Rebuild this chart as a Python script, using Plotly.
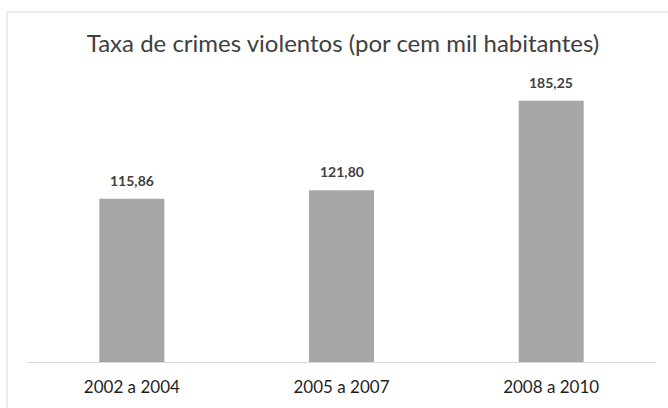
import plotly.graph_objects as go

categories = ["2002 a 2004", "2005 a 2007", "2008 a 2010"]
values = [115.86, 121.80, 185.25]
title_text = "Taxa de crimes violentos (por cem mil habitantes)"

W, H = 668, 408
L, R, T, B = 27, 12, 80, 46
pw = W - L - R
ph = H - T - B

fig = go.Figure(go.Bar(
    x=categories, y=values,
    marker=dict(color="#a6a6a6", line=dict(width=0)),
    width=0.31,
    hoverinfo="x+y",
))

for c, v in zip(categories, values):
    fig.add_annotation(
        x=c, y=v, xref="x", yref="y",
        text=f"{v:.2f}".replace(".", ","),
        showarrow=False, yanchor="bottom", yshift=8,
        font=dict(family="Lato", size=14, color="#404040", weight="bold"),
    )

fig.update_layout(
    width=W, height=H,
    margin=dict(l=L, r=R, t=T, b=B),
    paper_bgcolor="white", plot_bgcolor="white",
    showlegend=False,
    title=dict(text=title_text, x=343 / W, xref="container", xanchor="center",
               y=1 - 44 / H, yanchor="middle", yref="container",
               font=dict(family="Lato", size=24, color="#404040")),
    xaxis=dict(showline=True, linecolor="#d9d9d9", linewidth=1, ticks="",
               ticklabelstandoff=10,
               tickfont=dict(family="Lato", size=17, color="#1f1f1f"),
               showgrid=False),
    yaxis=dict(range=[0, 200], visible=False, showgrid=False),
    shapes=[dict(type="rect", xref="paper", yref="paper",
                 x0=(7 - L) / pw, x1=(W + 5 - L) / pw,
                 y0=-(B + 5) / ph, y1=(H - B - 12) / ph,
                 line=dict(color="#d9d9d9", width=1),
                 fillcolor="rgba(0,0,0,0)", layer="below")],
)

fig.write_html("out.html", config={"displayModeBar": False},
               post_script="document.body.style.margin='0';document.body.style.overflow='hidden';")
